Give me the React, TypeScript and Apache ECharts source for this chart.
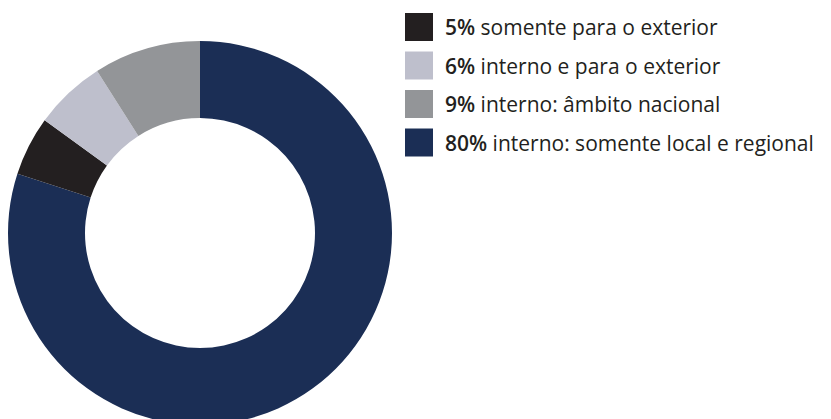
import React, { useEffect, useRef } from "react";
import * as echarts from "echarts";

const categories = [
  "somente para o exterior",
  "interno e para o exterior",
  "interno: âmbito nacional",
  "interno: somente local e regional",
];
const values = [5, 6, 9, 80];
const colors = ["#231f20", "#bebfcc", "#939598", "#1b2e55"];
// drawing order clockwise from 12 o'clock
const drawOrder = [3, 0, 1, 2];

export default function App() {
  const ref = useRef<HTMLDivElement>(null);
  useEffect(() => {
    if (!ref.current) return;
    const chart = echarts.init(ref.current, null, { renderer: "svg" });
    const pct: Record<string, number> = {};
    categories.forEach((c, i) => (pct[c] = values[i]));
    chart.setOption({
      animation: false,
      backgroundColor: "#ffffff",
      legend: {
        orient: "vertical",
        left: 405,
        top: 13,
        padding: 0,
        itemWidth: 28,
        itemHeight: 28,
        itemGap: 10.5,
        icon: "rect",
        selectedMode: false,
        data: categories,
        formatter: (name: string) => `{b|${pct[name]}%}{n| ${name}}`,
        textStyle: {
          padding: [0, 0, 0, 7],
          rich: {
            b: {
              fontFamily: "Open Sans",
              fontWeight: 600,
              fontSize: 21,
              color: "#231f20",
            },
            n: {
              fontFamily: "Open Sans",
              fontSize: 21,
              color: "#231f20",
            },
          },
        },
      },
      series: [
        {
          type: "pie",
          center: [200, 233],
          radius: [115, 192],
          startAngle: 90,
          clockwise: true,
          label: { show: false },
          labelLine: { show: false },
          emphasis: { disabled: true },
          itemStyle: { borderWidth: 0 },
          data: drawOrder.map((i) => ({
            name: categories[i],
            value: values[i],
            itemStyle: { color: colors[i] },
          })),
        },
      ],
    });
    return () => chart.dispose();
  }, []);
  return (
    <div
      ref={ref}
      style={{ position: "fixed", left: 0, top: 0, width: 831, height: 419 }}
    />
  );
}
